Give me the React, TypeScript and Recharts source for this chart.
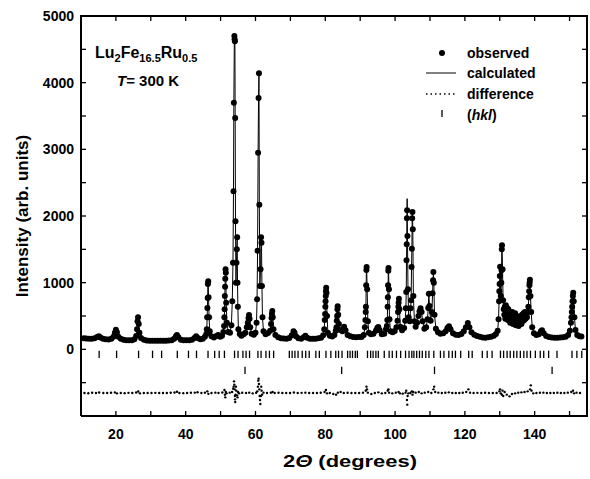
import React from "react";
import { ComposedChart, Scatter, Line, XAxis, YAxis, Label } from "recharts";

// observed pattern: [2theta (deg), intensity]
const observedPoints: [number, number][] = [
  [10.8, 165], [11.5, 162], [12.3, 160], [13.1, 160], [13.9, 168], [14.6, 185], [15.1, 195], [15.6, 178], [16.3, 160],
  [17.1, 150], [17.9, 148], [18.7, 158], [19.3, 190], [19.7, 250], [20.0, 295], [20.3, 255], [20.7, 190], [21.4, 160],
  [22.2, 145], [23.0, 138], [23.8, 135], [24.6, 138], [25.3, 150], [25.8, 200], [26.05, 300], [26.2, 420], [26.35, 480],
  [26.55, 380], [26.75, 250], [27.2, 170], [28.0, 142], [28.8, 132], [29.6, 130], [30.4, 130], [31.2, 128], [32.0, 128],
  [32.8, 128], [33.6, 130], [34.4, 130], [35.2, 132], [36.0, 138], [36.7, 160], [37.2, 195], [37.5, 215], [37.9, 180],
  [38.6, 145], [39.4, 136], [40.2, 135], [41.0, 136], [41.8, 145], [42.5, 170], [43.0, 195], [43.5, 170], [44.2, 150],
  [44.9, 160], [45.5, 190], [45.9, 230], [46.05, 300], [46.15, 480], [46.22, 620], [46.3, 770], [46.36, 980], [46.45, 1020],
  [46.55, 780], [46.7, 480], [46.9, 270], [47.4, 195], [48.1, 178], [48.8, 200], [49.3, 215], [49.9, 190], [50.4, 205],
  [50.8, 260], [51.0, 350], [51.08, 480], [51.15, 600], [51.22, 800], [51.28, 940], [51.34, 1060], [51.42, 1200],
  [51.5, 1150], [51.6, 700], [51.8, 400], [52.2, 260], [52.7, 250], [53.1, 360], [53.35, 720], [53.55, 1300], [53.7, 2370],
  [53.8, 3700], [53.95, 4700], [54.02, 4650], [54.1, 4620], [54.18, 3470], [54.27, 1920], [54.4, 1000], [54.55, 1300],
  [54.65, 1500], [54.75, 1680], [54.85, 1000], [54.95, 640], [55.1, 300], [55.5, 230], [56.0, 205], [56.6, 225],
  [57.1, 250], [57.5, 330], [57.8, 400], [58.0, 470], [58.15, 515], [58.3, 460], [58.5, 330], [58.9, 235], [59.5, 220],
  [60.0, 250], [60.3, 400], [60.45, 750], [60.6, 1480], [60.75, 2950], [60.88, 3770], [61.0, 4140], [61.1, 2170],
  [61.25, 950], [61.45, 1200], [61.6, 1680], [61.72, 1600], [61.85, 950], [62.0, 480], [62.3, 270], [62.9, 225],
  [63.6, 245], [64.2, 280], [64.45, 380], [64.6, 470], [64.7, 530], [64.82, 575], [64.95, 480], [65.15, 300], [65.7, 215],
  [66.5, 180], [67.3, 168], [68.1, 162], [68.9, 160], [69.7, 170], [70.4, 210], [70.9, 270], [71.2, 250], [71.6, 195],
  [72.3, 165], [73.1, 160], [73.8, 180], [74.3, 205], [74.8, 175], [75.6, 160], [76.4, 158], [77.2, 160], [78.0, 165],
  [78.8, 172], [79.4, 210], [79.7, 300], [79.85, 440], [79.95, 530], [80.02, 640], [80.08, 720], [80.14, 800],
  [80.2, 870], [80.26, 925], [80.35, 850], [80.5, 500], [80.75, 250], [81.3, 205], [82.0, 192], [82.6, 215], [83.0, 280],
  [83.2, 330], [83.3, 430], [83.4, 500], [83.48, 600], [83.55, 645], [83.7, 520], [83.9, 380], [84.3, 290], [84.9, 270],
  [85.4, 340], [85.8, 285], [86.4, 215], [87.2, 195], [88.0, 185], [88.8, 182], [89.6, 186], [90.4, 185], [91.0, 215],
  [91.35, 330], [91.5, 440], [91.58, 560], [91.65, 640], [91.72, 960], [91.78, 1190], [91.85, 1235], [92.0, 900],
  [92.2, 420], [92.5, 250], [93.1, 225], [93.8, 235], [94.5, 280], [94.9, 320], [95.2, 335], [95.6, 285], [96.2, 225],
  [96.9, 232], [97.4, 300], [97.65, 350], [97.78, 440], [97.86, 640], [97.93, 780], [98.0, 960], [98.06, 1180],
  [98.12, 1220], [98.25, 900], [98.4, 450], [98.7, 270], [99.3, 255], [99.9, 275], [100.4, 330], [100.7, 430],
  [100.85, 560], [100.95, 640], [101.02, 700], [101.1, 760], [101.25, 600], [101.5, 340], [102.0, 285], [102.6, 320],
  [102.9, 430], [103.1, 615], [103.2, 860], [103.28, 1335], [103.34, 1575], [103.4, 1965], [103.46, 2085], [103.55, 1700],
  [103.7, 900], [103.9, 480], [104.2, 420], [104.45, 615], [104.6, 735], [104.72, 1235], [104.82, 1510], [104.9, 1965],
  [104.98, 2060], [105.08, 1800], [105.25, 800], [105.55, 420], [105.9, 340], [106.3, 400], [106.7, 500], [107.0, 570],
  [107.3, 615], [107.6, 560], [107.9, 420], [108.4, 310], [108.9, 330], [109.3, 450], [109.5, 620], [109.68, 835],
  [109.85, 650], [110.2, 430], [110.55, 560], [110.75, 840], [110.88, 1035], [110.98, 1160], [111.1, 1000], [111.3, 520],
  [111.7, 310], [112.3, 255], [113.0, 235], [113.8, 240], [114.5, 270], [115.0, 320], [115.45, 345], [115.9, 300],
  [116.6, 240], [117.4, 218], [118.2, 215], [119.0, 230], [119.7, 270], [120.3, 330], [120.85, 395], [121.3, 330],
  [121.9, 255], [122.7, 218], [123.5, 200], [124.3, 188], [125.1, 178], [125.9, 175], [126.7, 180], [127.5, 190],
  [128.3, 205], [128.9, 230], [129.4, 280], [129.65, 450], [129.8, 720], [129.88, 870], [129.95, 980], [130.02, 1100],
  [130.1, 1240], [130.3, 800], [130.45, 1000], [130.52, 1185], [130.58, 1500], [130.65, 1560], [130.8, 1200],
  [130.95, 735], [131.15, 600], [131.3, 520], [131.45, 640], [131.6, 460], [131.75, 660], [131.9, 520], [132.1, 620],
  [132.3, 440], [132.45, 600], [132.6, 500], [132.8, 560], [133.0, 400], [133.2, 520], [133.4, 430], [133.6, 560],
  [133.8, 380], [134.0, 500], [134.2, 420], [134.4, 540], [134.6, 360], [134.8, 500], [135.0, 420], [135.2, 480],
  [135.4, 350], [135.6, 460], [135.8, 400], [136.0, 500], [136.2, 380], [136.4, 520], [136.6, 420], [136.8, 540],
  [137.0, 440], [137.2, 560], [137.4, 460], [137.6, 520], [137.8, 480], [138.0, 560], [138.2, 640], [138.32, 780],
  [138.42, 870], [138.5, 960], [138.56, 1000], [138.64, 1045], [138.8, 800], [139.0, 560], [139.3, 330], [139.8, 240],
  [140.5, 215], [141.2, 225], [141.8, 270], [142.1, 285], [142.6, 240], [143.3, 200], [144.1, 185], [144.9, 178],
  [145.7, 175], [146.5, 175], [147.3, 178], [148.1, 182], [148.9, 190], [149.6, 215], [150.1, 280], [150.4, 400],
  [150.55, 480], [150.65, 560], [150.75, 640], [150.85, 720], [150.95, 800], [151.05, 850], [151.2, 720], [151.4, 480],
  [151.7, 290], [152.2, 215], [152.8, 198], [153.4, 192],
];

// places where the calculated curve runs above the observed points
const calcOverrides: [number, number][] = [[103.46, 2260]];

// difference curve (Iobs - Icalc), shifted below zero as in the plot
const differencePoints: [number, number][] = [
  [11.0, -655], [12.1, -658], [13.2, -652], [14.3, -656], [15.2, -648], [16.4, -656], [17.5, -654], [18.6, -652],
  [19.7, -646], [20.3, -660], [21.4, -655], [22.5, -657], [23.6, -653], [24.7, -655], [25.8, -648], [26.4, -632],
  [26.9, -660], [28.0, -654], [29.1, -656], [30.2, -655], [31.3, -653], [32.4, -656], [33.5, -654], [34.6, -655],
  [35.7, -652], [36.8, -648], [37.5, -636], [38.2, -655], [39.3, -657], [40.4, -654], [41.5, -652], [42.6, -650],
  [43.4, -644], [44.5, -655], [45.5, -650], [46.2, -630], [46.5, -668], [47.4, -655], [48.5, -650], [49.4, -656],
  [50.5, -648], [51.1, -610], [51.25, -680], [51.35, -720], [51.5, -640], [51.7, -660], [52.6, -650], [53.3, -640],
  [53.6, -590], [53.75, -560], [53.85, -480], [53.95, -530], [54.05, -600], [54.1, -700], [54.15, -750], [54.2, -790],
  [54.3, -680], [54.4, -560], [54.5, -620], [54.7, -690], [54.85, -720], [55.0, -640], [55.3, -660], [56.2, -652],
  [57.3, -655], [58.2, -650], [59.2, -660], [60.2, -652], [60.5, -630], [60.7, -560], [60.8, -470], [60.9, -440],
  [61.0, -520], [61.1, -600], [61.2, -700], [61.3, -760], [61.4, -820], [61.55, -700], [61.65, -560], [61.75, -620],
  [61.9, -680], [62.3, -650], [63.3, -655], [64.4, -650], [64.9, -640], [65.5, -656], [66.6, -652], [67.7, -655],
  [68.8, -654], [69.9, -656], [71.0, -648], [72.1, -655], [73.2, -653], [74.3, -650], [75.4, -656], [76.5, -654],
  [77.6, -655], [78.7, -652], [79.8, -640], [80.2, -610], [80.5, -660], [81.3, -655], [82.3, -670], [83.1, -680],
  [83.6, -650], [84.4, -640], [85.3, -655], [86.4, -652], [87.5, -656], [88.6, -654], [89.7, -655], [90.8, -650],
  [91.6, -620], [91.8, -560], [91.95, -600], [92.2, -650], [93.2, -670], [94.2, -655], [95.2, -645], [96.2, -660],
  [97.2, -655], [97.9, -620], [98.1, -600], [98.3, -650], [99.2, -660], [100.2, -650], [101.0, -640], [101.4, -660],
  [102.2, -665], [103.0, -650], [103.2, -620], [103.4, -760], [103.5, -830], [103.6, -700], [103.8, -660],
  [104.4, -655], [104.8, -630], [105.0, -680], [105.2, -640], [105.9, -650], [106.8, -640], [107.6, -660],
  [108.5, -650], [109.5, -640], [110.4, -655], [111.0, -600], [111.2, -560], [111.5, -640], [112.4, -650],
  [113.4, -655], [114.4, -652], [115.4, -645], [116.4, -656], [117.4, -654], [118.4, -655], [119.4, -652],
  [120.4, -640], [121.0, -600], [121.5, -650], [122.5, -655], [123.6, -653], [124.7, -655], [125.8, -652],
  [126.9, -655], [128.0, -654], [129.1, -656], [129.9, -630], [130.1, -600], [130.3, -660], [130.6, -680],
  [130.8, -620], [131.0, -700], [131.4, -640], [132.0, -680], [132.8, -705], [133.5, -670], [134.4, -660],
  [135.3, -650], [136.2, -645], [137.1, -640], [138.0, -630], [138.7, -600], [138.9, -540], [139.1, -620],
  [139.6, -660], [140.5, -655], [141.5, -652], [142.5, -650], [143.5, -656], [144.5, -654], [145.5, -655],
  [146.5, -652], [147.5, -654], [148.5, -656], [149.5, -650], [150.5, -640], [151.0, -620], [151.3, -660],
  [152.0, -650], [153.0, -655],
];

// Bragg reflection positions (two phases)
const hklMain = [
  15.2, 20.2, 26.5, 30.5, 33.1, 37.6, 40.8, 43.1, 46.4, 48.3, 49.6, 51.1, 54.0, 55.0, 56.4, 57.3, 58.3, 60.7, 61.6,
  63.0, 64.0, 65.2, 69.7, 70.5, 71.3, 72.2, 73.4, 74.4, 75.4, 77.3, 78.3, 80.2, 81.6, 83.0, 83.8, 84.8, 86.4, 87.1,
  87.8, 88.6, 89.2, 92.1, 93.0, 93.7, 94.5, 95.2, 96.9, 98.3, 99.2, 100.4, 101.6, 103.0, 104.0, 104.8, 105.4, 106.2,
  107.0, 107.8, 108.8, 109.7, 111.1, 113.0, 114.0, 115.4, 116.4, 117.3, 118.8, 121.1, 122.1, 125.0, 126.4, 127.8,
  130.2, 131.1, 132.1, 133.0, 134.0, 134.9, 135.9, 136.9, 137.8, 138.8, 140.2, 141.6, 142.6, 144.0, 146.4, 150.7,
  152.1, 153.5,
];
const hklSecond = [57.0, 84.7, 111.3, 145.0];

const xLabelTicks = [20, 40, 60, 80, 100, 120, 140];
const xMinorTicks = [20, 30, 40, 50, 60, 70, 80, 90, 100, 110, 120, 130, 140, 150];
const yLabelTicks = [0, 1000, 2000, 3000, 4000, 5000];
const yMinorTicks = [-500, 0, 500, 1000, 1500, 2000, 2500, 3000, 3500, 4000, 4500];

const X_MIN = 10;
const X_MAX = 155;
const Y_MIN = -1000;
const Y_MAX = 5000;
const HKL_ROW1 = -75;
const HKL_ROW2 = -315;

// chart layout
const W = 590;
const H = 479;
const MARGIN = { top: 16, right: 3, left: 21, bottom: 33 };
const Y_AXIS_W = 60;
const X_AXIS_H = 30;
const PLOT_L = MARGIN.left + Y_AXIS_W;
const PLOT_T = MARGIN.top;
const PLOT_W = W - PLOT_L - MARGIN.right;
const PLOT_H = H - MARGIN.top - MARGIN.bottom - X_AXIS_H;
const sx = (v: number) => PLOT_L + ((v - X_MIN) / (X_MAX - X_MIN)) * PLOT_W;
const sy = (v: number) => PLOT_T + ((Y_MAX - v) / (Y_MAX - Y_MIN)) * PLOT_H;
const TICK = 5;
const EDGE = 2;

const FONT = "'Liberation Sans', Arial, sans-serif";

const obsData = observedPoints.map(([x, y]) => ({ x, y }));
const calcData = observedPoints.map(([x, y]) => {
  const o = calcOverrides.find((c) => c[0] === x);
  return { x, y: o ? o[1] : y };
});
const diffData = differencePoints.map(([x, y]) => ({ x, y }));
const hkl1Data = hklMain.map((x) => ({ x, y: HKL_ROW1 }));
const hkl2Data = hklSecond.map((x) => ({ x, y: HKL_ROW2 }));

const Dot = (p: any) => <circle cx={p.cx} cy={p.cy} r={3} fill="#000" />;
const SmallDot = (p: any) => <circle cx={p.cx} cy={p.cy} r={1.2} fill="#000" />;
const Tick = (p: any) => (
  <line x1={p.cx} x2={p.cx} y1={p.cy - 3.7} y2={p.cy + 3.7} stroke="#000" strokeWidth={1.3} />
);

const XTitle = (props: any) => {
  const { x, y, width } = props.viewBox;
  return (
    <text
      x={x + width / 2 + 16}
      y={y + 51}
      textAnchor="middle"
      fontFamily={FONT}
      fontWeight="bold"
      fontSize={17}
      textLength={134}
      lengthAdjust="spacingAndGlyphs"
    >
      2<tspan fontStyle="italic">Θ</tspan> (degrees)
    </text>
  );
};

const YTitle = (props: any) => {
  const { x, y, height } = props.viewBox;
  const cx = x + 1;
  const cy = y + height / 2;
  return (
    <text
      x={cx}
      y={cy}
      transform={`rotate(-90, ${cx}, ${cy})`}
      textAnchor="middle"
      dominantBaseline="central"
      fontFamily={FONT}
      fontWeight="bold"
      fontSize={17}
    >
      Intensity (arb. units)
    </text>
  );
};

const axisText = { fontFamily: FONT, fontWeight: "bold" as const, fontSize: 14, fill: "#000" };

// box frame with inward ticks on all four sides, drawn as filled bars
const Frame = () => (
  <g fill="#000">
    <rect x={PLOT_L - EDGE / 2} y={PLOT_T - EDGE / 2} width={PLOT_W + EDGE} height={EDGE} />
    <rect x={PLOT_L + PLOT_W - EDGE / 2} y={PLOT_T - EDGE / 2} width={EDGE} height={PLOT_H + EDGE} />
    {xMinorTicks.map((t) => (
      <g key={`x${t}`}>
        <rect x={sx(t) - 0.65} y={PLOT_T + PLOT_H - TICK} width={1.3} height={TICK} />
        <rect x={sx(t) - 0.65} y={PLOT_T} width={1.3} height={TICK} />
      </g>
    ))}
    {yMinorTicks.map((t) => (
      <g key={`y${t}`}>
        <rect x={PLOT_L} y={sy(t) - 0.65} width={TICK} height={1.3} />
        <rect x={PLOT_L + PLOT_W - TICK} y={sy(t) - 0.65} width={TICK} height={1.3} />
      </g>
    ))}
  </g>
);

export default function App() {
  return (
    <div style={{ position: "relative", width: W, height: H, background: "#fff" }}>
      <style>{"body{margin:0}"}</style>
      <ComposedChart width={W} height={H} margin={MARGIN}>
        <XAxis
          dataKey="x"
          type="number"
          domain={[X_MIN, X_MAX]}
          ticks={xLabelTicks}
          tickLine={false}
          tickSize={5}
          tickMargin={8}
          tick={axisText}
          axisLine={{ stroke: "#000", strokeWidth: 2 }}
          height={X_AXIS_H}
        >
          <Label content={XTitle} />
        </XAxis>
        <YAxis
          type="number"
          domain={[Y_MIN, Y_MAX]}
          ticks={yLabelTicks}
          tickLine={false}
          tickSize={5}
          tickMargin={2}
          tick={axisText}
          axisLine={{ stroke: "#000", strokeWidth: 2 }}
          width={Y_AXIS_W}
        >
          <Label content={YTitle} />
        </YAxis>

        <Scatter data={obsData} dataKey="y" shape={Dot} isAnimationActive={false} />
        <Line
          data={calcData}
          dataKey="y"
          type="linear"
          stroke="#000"
          strokeWidth={1}
          dot={false}
          activeDot={false}
          isAnimationActive={false}
        />
        <Scatter data={diffData} dataKey="y" shape={SmallDot} isAnimationActive={false} />
        <Scatter data={hkl1Data} dataKey="y" shape={Tick} isAnimationActive={false} />
        <Scatter data={hkl2Data} dataKey="y" shape={Tick} isAnimationActive={false} />
      </ComposedChart>
      <svg
        width={W}
        height={H}
        style={{ position: "absolute", left: 0, top: 0, pointerEvents: "none" }}
        fontFamily={FONT}
        fontWeight="bold"
      >
        <Frame />
        <text x={95} y={58} fontSize={16}>
          Lu<tspan fontSize={11} dy={4}>2</tspan>
          <tspan dy={-4}>Fe</tspan>
          <tspan fontSize={11} dy={4}>16.5</tspan>
          <tspan dy={-4}>Ru</tspan>
          <tspan fontSize={11} dy={4}>0.5</tspan>
        </text>
        <text x={117} y={86} fontSize={15}>
          <tspan fontStyle="italic">T</tspan>= 300 K
        </text>
        <g fontSize={14}>
          <circle cx={442} cy={53} r={3} fill="#000" />
          <text x={467} y={58}>observed</text>
          <line x1={426} x2={456} y1={73} y2={73} stroke="#000" strokeWidth={1} />
          <text x={467} y={78}>calculated</text>
          <line x1={426} x2={456} y1={94} y2={94} stroke="#000" strokeWidth={1.5} strokeDasharray="1.5 3" />
          <text x={467} y={99}>difference</text>
          <line x1={442} x2={442} y1={110} y2={117} stroke="#000" strokeWidth={1.3} />
          <text x={467} y={120}>
            (<tspan fontStyle="italic">hkl</tspan>)
          </text>
        </g>
      </svg>
    </div>
  );
}
